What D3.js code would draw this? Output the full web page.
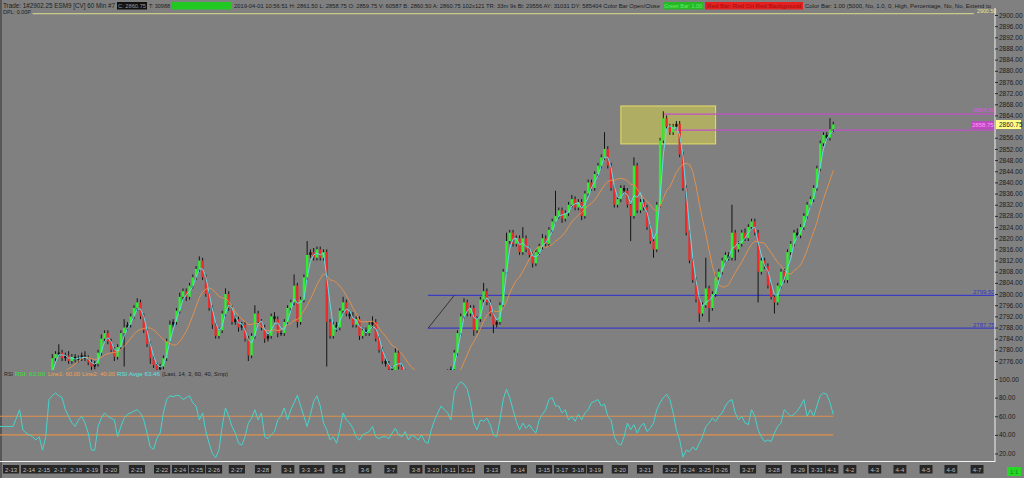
<!DOCTYPE html>
<html><head><meta charset="utf-8">
<script src="https://cdn.jsdelivr.net/npm/d3@7"></script>
<style>
html,body{margin:0;padding:0;background:#808080;overflow:hidden}
svg{display:block}
</style></head><body><svg id="c" width="1024" height="478"></svg>
<script>
// ---------- DATA ----------
// hourly-ish closes, one per slot (open = previous close)
const closes = [
2768,2768.5,2769,2768,2769.5,2770,2769,2768,2767.5,2768,
2767,2768.5,2767,2765,2768,2771,2777,2778.5,2779,2777,
2778,2776,2777.5,2776.5,2777,2778,2777,2775.5,2774,2775,
2779,2784,2786,2783,2780,2777.5,2781,2786,2788,2789,
2792,2795,2797,2792,2787,2782,2777,2774.5,2773,2774,
2777,2783,2789,2790,2794,2799,2801,2799,2803,2806,
2809,2812,2806,2800,2795,2789,2785,2787,2793,2800,
2795,2790,2791,2788,2789,2784,2778,2785,2793,2790,
2788,2784,2785,2792,2791,2786,2786,2790,2795,2797,
2803,2790,2798,2806,2814,2815,2813,2816,2813,2815,
2790,2785,2789,2788,2794,2797,2793,2792,2789,2791,
2785,2787,2786,2789,2790,2784,2780,2776,2775,2773,
2772,2779,2774,2772,2770,2771,2769,2768,2770,2769,
2767,2766,2765,2764,2766,2768,2770,2772,2773,2779,
2786,2792,2797,2793,2795,2787,2791,2798,2801,2797,
2793,2789,2790,2796,2808,2819,2822,2818,2820,2815,
2820,2816,2814,2811,2815,2817,2820,2818,2823,2826,
2828,2830,2827,2829,2832,2834,2831,2833,2828,2836,
2840,2838,2843,2846,2849,2852,2846,2838,2832,2834,
2838,2837,2832,2828,2846,2830,2833,2831,2824,2819,
2816,2832,2855,2863,2860,2858,2860,2861,2850,2838,
2822,2812,2805,2798,2793,2796,2802,2795,2800,2806,
2808,2812,2814,2813,2822,2816,2818,2822,2820,2824,
2826,2822,2808,2812,2810,2803,2799,2797,2803,2808,
2805,2815,2818,2822,2821,2824,2828,2832,2834,2838,
2845,2854,2857,2856,2859,2860.75];
// upper / lower wick lengths (points)
const wickUp = [
1,1,1,1,1,1,1,1,1,1, 1,1,1,1,1,1,1.5,1,3,1, 1,1.5,1,1,1,1,1.5,1,1,1,
1,1.5,1,1,1,1,1,1,3,1, 1,1,1.5,1,1,1,1,1,1,1, 1,1,1.5,1,1,1.5,1,1,1,1,
1,1.5,1,1,1,1,1,1,1,2, 1,1,1.5,1,1,1,1,1,3,1, 1,1,1,1,1.5,1,1,1,1,1,
4,1,1,1,5,1,1.5,1,1,1, 1,1,1,1,1,2,1,1,1.5,1, 1,1,1,1,2,1,1,1,1,1,
1,1.5,1,1,1,1,1,1,1,1, 1,1,1,1,1,1,1,1,1,1, 1,1,1.5,1,1,1,1,1,3,1,
1,1,1,1,1,3,1,1,1,1, 4,1,1,1,1,1,1.5,1,1,1, 9,1,1,1,1,1.5,1,1,1,1,
1,1,1,1,1,6,1,1,1,1, 1,1,1,1,3,1,1,1,1,1, 1,1,1,2.5,1,1,1,1,1,1,
1,1,1,1,1,1,11,1,1,1, 1,1,1,1,10,1,1,1,1.5,1, 1,1,1,1,1,1,1,1,1,1,
1,1,1,1,1.5,1,1,1,1,1, 1,1,1,1,4,1];
const wickDn = [
1,1,1,1,1,1,1,1,1,1, 1,1,1,1,1,1,1,1,1,1, 1,1,1,1,1,1,1,1,2,1,
1,1,1,1,1,1.5,1,1,12,1, 1,1,1,1,1,1,2,1,1,1, 1,1,1,1,1,1,1,1.5,1,1,
1,1,1,1,1,1.5,1,1,1,1, 1,1,1,1.5,1,1,2,1,1,1, 1,1.5,1,1,1,1.5,1,1,1,1,
1,2,1,1,1,1,1,1,1,1, 16,1,1,1.5,1,1,1,1,1,1, 1.5,1,1,1,1,1,1,1,1,1,
1,1,1,1,1,1,1,1,1,1, 1,1,1,1,1,1,1,1,1,1, 1,1,1,1,1,2,1,1,1,1,
1,3,1,1,1,1,1,1,1,1, 1,1,1,1.5,1,1,1,1,1,1, 1,1,1.5,1,1,1,1,1,1.5,1,
1,1,1,1,1,1,1,1,1,1, 1,1,1,9,1,1,1,1,1,1, 3,1,1,1,1,1,1,1,1,1,
1,1,1,1,3,1,1,5,1,1, 1,1,1,1,1,4,1,1,1,1, 1,1,11,1,1,1,1,4,1,1,
1,1,1,1,1,1,1,1,1,1, 1,1,1,1,1,1];
// RSI(14) values, one per slot
const rsi = [
49,49,49,49,49,58,67,45.5,42,40,
38,34.5,38,23.6,38,78,82,85,82,80,
67,60,52.7,49,56,60,52.7,42,23.6,23.6,
49,58,63.6,60,58,56,38,49,58,62,
63.6,65.5,67,63.6,56,42,27,24.4,36,42,
63.6,78,82,81,82.5,82,78,80,82,74.5,
71,56,63.6,43.6,31,20,15.6,23.6,49,69,
60,49,42,31,29,38,52.7,58,67,56,
63.6,38,36,40,43.6,56,60,69,56,67,
74.5,82.5,71,60,49,62,76,82,71,52.7,
45.5,34.5,38,31,45.5,63.6,56,52.7,47,38,
34.5,40,42,43.6,49,38,36,38,38,36,
42,47,40,38,43.6,34.5,40,38,34.5,40,
32.7,31,45.5,56,63.6,71,67,63.6,56,85.5,
93,97,94.5,89,74.5,52.7,45.5,56,54.5,58,
51,40,38,56,78,89,80,67,54.5,45.5,
52.7,47,51,45.5,42,56,62,67,78,80,
71,71,63.6,67,56,60,54.5,62,56,63.6,
67,74.5,76,78,71,73,60,56,38,31,
29,38,52.7,45.5,51,42,49,52.7,43.6,47,
52.7,67,74.5,80,83.6,78,63.6,45.5,34.5,16,
23.6,22,27,23.6,31,38,49,52.7,58,54.5,
60,63.6,71,76,78,63.6,56,60,52.7,51,
67,60,45.5,38,32.7,34.5,32.7,42,49,52.7,
67,63.6,60,62,65.5,71,78,60,67,60,
71,82,85,83.6,74.5,62];
// price tick labels (2860.00 is hidden under the last-price box)
const priceTicks = [2900,2896,2892,2888,2884,2880,2876,2872,2868,2864,2856,2852,2848,2844,2840,2836,2832,2828,2824,2820,2816,2812,2808,2804,2800,2796,2792,2788,2784,2780,2776];
const rsiTicks = [100,80,60,40,20];
const rsiBands = [60,40];
const dateLabels = ["2-13","2-14","2-15","2-17","2-18","2-19","2-20","2-21","2-22","2-24","2-25","2-26","2-27","2-28","3-1","3-3","3-4","3-5","3-6","3-7","3-8","3-10","3-11","3-12","3-13","3-14","3-15","3-17","3-18","3-19","3-20","3-21","3-22","3-24","3-25","3-26","3-27","3-28","3-29","3-31","4-1","4-2","4-3","4-4","4-5","4-6","4-7"];
const dateSlots = [3.4,8.9,13.5,18.4,23.3,28.2,34,41.9,49.6,55.1,60.3,65.5,72.5,80.5,88.1,93.6,97.3,103.7,111.7,119.6,127.3,132.5,137.7,142.9,150.6,158.8,166.5,172,176.9,182.1,189.7,197.4,205.3,210.8,215.7,220.9,228.9,236.8,244.5,250,254.6,260.1,267.7,275.4,283.4,291,299];
// horizontal levels
const magentaLevels = [2864.5, 2858.75];
const magentaFrom = [203, 206];
const blueLevels = [2799.5, 2787.75];
const blueFrom = 131;
const topLevel = 2900.5;
const zoneSlots = [190, 219];
const zonePrices = [2867.4, 2853.8];
const lastPrice = 2860.75;
const fastLen = 3, slowLen = 11;

// ---------- CHART ----------
const W=1024,H=478, plotRight=995;
const FONT='"Liberation Sans", Arial, sans-serif';
const svg=d3.select('#c');
const x=d3.scaleLinear().domain([0,304.5]).range([0,plotRight]);
const yP=d3.scaleLinear().domain([2776,2900]).range([361,15]);
const yR=d3.scaleLinear().domain([20,100]).range([453.5,379]);

svg.append('rect').attr('width',W).attr('height',H).attr('fill','#808080');
const defs=svg.append('defs');
defs.append('clipPath').attr('id','cp').append('rect').attr('x',0).attr('y',9).attr('width',plotRight).attr('height',361);
defs.append('clipPath').attr('id','cr').append('rect').attr('x',0).attr('y',376).attr('width',plotRight).attr('height',85);

// left border
svg.append('line').attr('x1',1).attr('x2',1).attr('y1',0).attr('y2',H).attr('stroke','#4a4a4a').attr('stroke-width',1.5);

const pane=svg.append('g').attr('clip-path','url(#cp)');

// top level line
pane.append('line').attr('x1',x(10)).attr('x2',x(298)).attr('y1',yP(topLevel)).attr('y2',yP(topLevel)).attr('stroke','#c9c98a').attr('stroke-width',1.2);

// zone
pane.append('rect').attr('x',x(zoneSlots[0])).attr('width',x(zoneSlots[1])-x(zoneSlots[0]))
  .attr('y',yP(zonePrices[0])).attr('height',yP(zonePrices[1])-yP(zonePrices[0]))
  .attr('fill','rgba(222,216,70,0.5)').attr('stroke','#e4df66').attr('stroke-width',1);

// blue levels + diagonal
blueLevels.forEach(p=>{
  pane.append('line').attr('x1',x(blueFrom)).attr('x2',plotRight).attr('y1',yP(p)).attr('y2',yP(p)).attr('stroke','#3b3bc4').attr('stroke-width',1.2);
});
pane.append('line').attr('x1',x(blueFrom)).attr('y1',yP(blueLevels[1])).attr('x2',x(139)).attr('y2',yP(blueLevels[0])).attr('stroke','#222').attr('stroke-width',0.8);

// magenta levels
magentaLevels.forEach((p,k)=>{
  pane.append('line').attr('x1',x(magentaFrom[k])).attr('x2',plotRight).attr('y1',yP(p)).attr('y2',yP(p)).attr('stroke','#c050c8').attr('stroke-width',1.2);
});

// candles
const bars=closes.map((c,i)=>{const o=i?closes[i-1]:c;return {i,o,c,h:Math.max(o,c)+wickUp[i],l:Math.min(o,c)-wickDn[i]};});
const bw=2.3;
pane.append('g').selectAll('line').data(bars).join('line')
  .attr('x1',d=>x(d.i)).attr('x2',d=>x(d.i)).attr('y1',d=>yP(d.h)).attr('y2',d=>yP(d.l))
  .attr('stroke','#141414').attr('stroke-width',1);
pane.append('g').selectAll('rect').data(bars).join('rect')
  .attr('x',d=>x(d.i)-bw/2).attr('width',bw)
  .attr('y',d=>yP(Math.max(d.o,d.c))).attr('height',d=>Math.max(1,Math.abs(yP(d.o)-yP(d.c))))
  .attr('fill',d=>d.c-d.o>1?'#2df02d':(d.c-d.o<-1?'#f02a2a':'#111'));

// moving averages
function sma(a,n){return a.map((v,i)=>i<n-1?null:d3.mean(a.slice(i-n+1,i+1)));}
const line=d3.line().defined(d=>d!=null).x((d,i)=>x(i)).y(d=>yP(d));
pane.append('path').datum(sma(closes,slowLen)).attr('d',line).attr('fill','none').attr('stroke','#e0904c').attr('stroke-width',1);
pane.append('path').datum(sma(closes,fastLen)).attr('d',line).attr('fill','none').attr('stroke','#66d8e4').attr('stroke-width',1);

// fitted text helper: shrinks font so natural width fits, then stretches to exact width
function fitText(parent,t,xx,yy,w,fill,size){
  const el=parent.append('text').attr('x',xx).attr('y',yy).attr('fill',fill).attr('font-family',FONT).attr('font-size',size).text(t);
  const nat=el.node().getComputedTextLength();
  if(nat>w) el.attr('font-size',size*w/nat*0.98);
  el.attr('textLength',w).attr('lengthAdjust','spacingAndGlyphs');
  return el;
}
const lbl=(t,xx,yy,fill,size)=>svg.append('text').attr('x',xx).attr('y',yy).text(t).attr('fill',fill).attr('font-family',FONT).attr('font-size',size||6.5);

// level labels
lbl('2900.50',977,13,'#e8e890',5.3);
lbl(d3.format('.2f')(magentaLevels[0]),973,yP(magentaLevels[0])-2.5,'#e050e0',6);
svg.append('rect').attr('x',971).attr('y',yP(magentaLevels[1])-9).attr('width',23).attr('height',8).attr('fill','#c048c0');
lbl(d3.format('.2f')(magentaLevels[1]),972,yP(magentaLevels[1])-2.8,'#ff9cff',6);
blueLevels.forEach(p=>lbl(d3.format('.2f')(p),973,yP(p)-1.5,'#3434c8',6));

// RSI pane
const rp=svg.append('g').attr('clip-path','url(#cr)');
rsiBands.forEach(v=>rp.append('line').attr('x1',x(0)).attr('x2',x(rsi.length-1)).attr('y1',yR(v)).attr('y2',yR(v)).attr('stroke','#e0904c').attr('stroke-width',1.2));
rp.append('path').datum(rsi).attr('d',d3.line().x((d,i)=>x(i)).y(d=>yR(d))).attr('fill','none').attr('stroke','#46d4cc').attr('stroke-width',1);

// RSI title
[[4,'RSI','#1e1e1e',9],[15,'RSI: 62.00','#33e033',30],[48,'Line1: 60.00','#f0a050',32],[82,'Line2: 40.00','#f0a050',33],[117,'RSI Avge 63.46','#5fe0e0',43],[162,'(Last, 14, 3, 60, 40, Smp)','#1e1e1e',66]]
 .forEach(s=>fitText(svg,s[1],s[0],375.5,s[3],s[2],6));

// frame
svg.append('line').attr('x1',plotRight).attr('x2',plotRight).attr('y1',8).attr('y2',462).attr('stroke','#f2f2f2').attr('stroke-width',1);
svg.append('line').attr('x1',0).attr('x2',plotRight).attr('y1',461.5).attr('y2',461.5).attr('stroke','#f2f2f2').attr('stroke-width',1);

// axes
function styleAxis(g){g.select('.domain').remove();g.attr('font-family',FONT).attr('font-size',6.5);g.selectAll('line').attr('stroke','#2a2a2a');g.selectAll('text').attr('fill','#1c1c1c');}
svg.append('g').attr('transform',`translate(${plotRight},0)`).call(d3.axisRight(yP).tickValues(priceTicks).tickFormat(d3.format('.2f')).tickSize(3).tickPadding(1)).call(styleAxis);
svg.append('g').attr('transform',`translate(${plotRight},0)`).call(d3.axisRight(yR).tickValues(rsiTicks).tickFormat(d3.format('.2f')).tickSize(3).tickPadding(1)).call(styleAxis);

// last price box
svg.append('rect').attr('x',996).attr('y',yP(lastPrice)-4.5).attr('width',25).attr('height',9).attr('fill','#ffff88');
lbl(d3.format('.2f')(lastPrice),999,yP(lastPrice)+2.3,'#1c1c1c');

// date axis
const dg=svg.append('g').attr('font-family',FONT).attr('font-size',6);
dateLabels.forEach((t,k)=>{
  const cx=x(dateSlots[k]); const w=t.length*3.3+3;
  dg.append('rect').attr('x',cx-w/2).attr('y',465).attr('width',w).attr('height',8.5).attr('fill','#262626');
  dg.append('text').attr('x',cx).attr('y',471.5).attr('text-anchor','middle').attr('fill','#bdbdbd').text(t);
});
svg.append('rect').attr('x',1007).attr('y',467).attr('width',14).attr('height',9).attr('fill','#26d826');
lbl('1:1',1010,474,'#117711',6);

// header
const hdr=svg.append('g');
const seg=(xx,w,t,fill,y)=>fitText(hdr,t,xx,y||8,w,fill||'#1c1c1c',6.3);
seg(3,112,'Trade: 1#2902.25  ESM9 [CV]  60 Min  #7');
hdr.append('rect').attr('x',117).attr('y',2).attr('width',30).attr('height',7.5).attr('fill','#111');
seg(118,28,'C: 2860.75','#9a9a9a');
seg(149,21,'T: 30988');
hdr.append('rect').attr('x',172).attr('y',2).attr('width',60).attr('height',7.5).attr('fill','#22c822');
seg(234,426,'2019-04-01 10:56:51 H: 2861.50 L: 2858.75 O: 2859.75 V: 60587 B: 2860.50 A: 2860.75 102x121 TR: 33m 9s Bi: 29556 AY: 31031 DY: 585404 Color Bar Open/Close');
hdr.append('rect').attr('x',663).attr('y',2).attr('width',40).attr('height',7.5).attr('fill','#26b826');
seg(664,38,'Green Bar: 1.00','#66ee66');
hdr.append('rect').attr('x',705).attr('y',2).attr('width',98).attr('height',7.5).attr('fill','#e42020');
seg(707,94,'Red Bar: Red On Red Background','#9c1010');
seg(805,186,'Color Bar: 1.00   (5000, No, 1.0, 0, High, Percentage, No, No, Extend to');
seg(3,28,'DPL: 0.00P','#1c1c1c',13.5);
</script></body></html>
